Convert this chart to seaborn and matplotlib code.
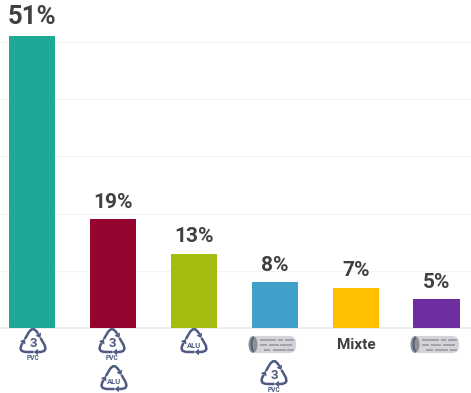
import numpy as np
import pandas as pd
import matplotlib.pyplot as plt
import seaborn as sns
from matplotlib.path import Path
from matplotlib.patches import PathPatch, Polygon, FancyBboxPatch, Ellipse, Arc

# Chart data
categories = ['PVC', 'PVC + ALU', 'ALU', 'Rouleau + PVC', 'Mixte', 'Rouleau']
shares = [51, 19, 13, 8, 7, 5]
share_labels = ['51%', '19%', '13%', '8%', '7%', '5%']
bar_colors = ['#1fa896', '#960530', '#a5bd0e', '#3fa0cb', '#ffc000', '#6f2da0']

ICON_BLUE = '#4f5b82'
TEXT_GREY = '#404040'

sns.set_theme(style='white')
plt.rcParams['font.family'] = ['Roboto', 'DejaVu Sans']

fig = plt.figure(figsize=(4.71, 3.93), dpi=100)
ax = fig.add_axes([0, 65 / 393, 1, 328 / 393])

df = pd.DataFrame({'category': categories, 'share': shares})
sns.barplot(data=df, x='category', y='share', hue='category', palette=bar_colors,
            width=0.57, saturation=1, legend=False, ax=ax, zorder=3, linewidth=0)
ax.set_xlim(-0.3955, 5.426)
ax.set_ylim(0, 57.3)
ax.set_yticks([10, 20, 30, 40, 50])
ax.set_xticks([])
ax.set_yticklabels([])
ax.set_xlabel('')
ax.set_ylabel('')
ax.tick_params(left=False, bottom=False)
ax.grid(axis='y', color='#f3f3f3', lw=0.8)
ax.set_axisbelow(True)
for name in ['top', 'left', 'right']:
    ax.spines[name].set_visible(False)
ax.spines['bottom'].set_color('#ececec')
ax.patch.set_alpha(0)

for i, value in enumerate(shares):
    ax.annotate(share_labels[i], (i, value), xytext=(0, 5.4), textcoords='offset points',
                ha='center', va='bottom', fontweight='bold', color=TEXT_GREY,
                fontsize=18.5 if i == 0 else 15)

# Overlay in pixel coords for the icons under the bars
icons = fig.add_axes([0, 0, 1, 1])
icons.set_xlim(0, 471)
icons.set_ylim(393, 0)
icons.axis('off')
icons.patch.set_alpha(0)


def recycle_icon(cx, cy, label, small=None):
    """Triangle of three arrows with the plastic code inside"""
    R = 18
    corners = [np.array([R * np.sin(a), -R * np.cos(a)]) for a in np.radians([0, 120, 240])]
    for k in range(3):
        c = corners[k]
        nxt = corners[(k + 1) % 3]
        prv = corners[(k + 2) % 3]
        start = c + 0.52 * (prv - c)
        c1 = c + 0.30 * (prv - c)
        c2 = c + 0.30 * (nxt - c)
        end = c + 0.34 * (nxt - c)
        verts = [start, c1, c, c2, end]
        codes = [Path.MOVETO, Path.LINETO, Path.CURVE3, Path.CURVE3, Path.LINETO]
        verts = [v + (cx, cy) for v in verts]
        icons.add_patch(PathPatch(Path(verts, codes), fc='none', ec=ICON_BLUE, lw=1.8))
        d = (nxt - c) / np.linalg.norm(nxt - c)
        n = np.array([-d[1], d[0]])
        tip = end + (cx, cy) + d * 4.5
        base = end + (cx, cy)
        icons.add_patch(Polygon([tip, base + n * 3.2, base - n * 3.2], fc=ICON_BLUE, ec='none'))
    if small:
        icons.text(cx, cy + 2, label, ha='center', va='center', fontsize=5.5,
                   fontweight='bold', color=ICON_BLUE)
    else:
        icons.text(cx, cy + 0.5, label, ha='center', va='center', fontsize=9.5,
                   fontweight='bold', color=ICON_BLUE)
        icons.text(cx, cy + 14.5, 'PVC', ha='center', va='center', fontsize=4.8,
                   fontweight='bold', color=ICON_BLUE)


def roll_icon(left, right, top, bottom):
    """Grey foil roll seen from the side"""
    h = bottom - top
    icons.add_patch(FancyBboxPatch((left + 3, top + 1), right - left - 6, h - 2,
                                   boxstyle='round,pad=0,rounding_size=6', mutation_scale=1,
                                   fc='#d2d4da', ec='#d2d4da', lw=1.5))
    icons.add_patch(Ellipse((left + 5, top + h / 2), 9, h, fc='#8f9096', ec='none'))
    icons.add_patch(Arc((left + 6, top + h / 2), 5, h - 4, theta1=90, theta2=270,
                        color=ICON_BLUE, lw=1.3))
    x0 = left + 12
    w = right - left - 16
    dashes = [(top + 4, [(0, .48), (.54, .68), (.74, 1)]),
              (top + 9, [(0, .2), (.26, .55), (.6, .95)]),
              (top + 14, [(.12, .3), (.38, .75), (.8, 1)])]
    for y, parts in dashes:
        for a, b in parts:
            icons.plot([x0 + a * w, x0 + b * w], [y, y], color='#9a9ba1', lw=1.2,
                       solid_capstyle='butt')


recycle_icon(33, 343, '3')
recycle_icon(112, 343, '3')
recycle_icon(114, 380, 'ALU', small=True)
recycle_icon(194, 343, 'ALU', small=True)
roll_icon(248, 298, 336, 353)
recycle_icon(274, 375, '3')
icons.text(356, 345, 'Mixte', ha='center', va='center', fontsize=11, fontweight='bold',
           color=TEXT_GREY)
roll_icon(410, 461, 336, 353)

plt.savefig('out.png', dpi=100)
